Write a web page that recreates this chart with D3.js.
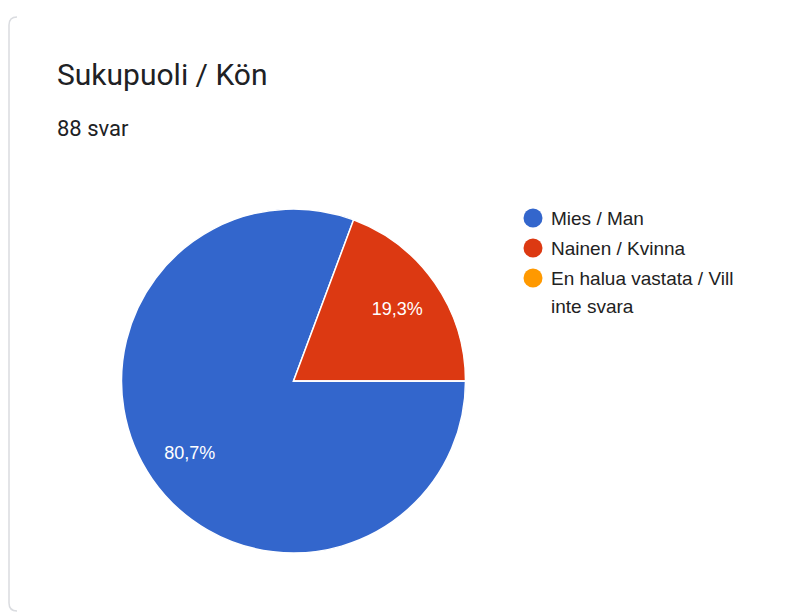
<!DOCTYPE html>
<html>
<head>
<meta charset="utf-8">
<script src="https://cdn.jsdelivr.net/npm/d3@7"></script>
<style>
  body { margin: 0; background: #fff; }
  svg { display: block; }
</style>
</head>
<body>
<svg></svg>
<script>
var categories = ["Mies / Man", "Nainen / Kvinna", "En halua vastata / Vill inte svara"];
var legendLines = [["Mies / Man"], ["Nainen / Kvinna"], ["En halua vastata / Vill", "inte svara"]];
var counts = [71, 17, 0];
var colors = ["#3366cc", "#dc3912", "#ff9900"];
var title = "Sukupuoli / Kön";
var subtitle = "88 svar";

var svgWidth = 789;
var svgHeight = 613;

var svg = d3.select("svg")
  .attr("width", svgWidth)
  .attr("height", svgHeight);

// card edge (only left side shows)
svg.append("path")
  .attr("d", "M 17 17 Q 9 17 9 25 L 9 603 Q 9 611 17 611")
  .attr("fill", "none")
  .attr("stroke", "#dadce0")
  .attr("stroke-width", 1.5);

svg.append("text")
  .attr("x", 57)
  .attr("y", 85)
  .attr("font-family", "Roboto, sans-serif")
  .attr("font-size", 30)
  .attr("fill", "#202124")
  .text(title);

svg.append("text")
  .attr("x", 57)
  .attr("y", 136)
  .attr("font-family", "Roboto, sans-serif")
  .attr("font-size", 22)
  .attr("fill", "#202124")
  .text(subtitle);

var cx = 293.5, cy = 381, radius = 172;
var total = d3.sum(counts);

var pie = d3.pie()
  .sort(null)
  .startAngle(Math.PI / 2)
  .endAngle(Math.PI / 2 + 2 * Math.PI)
  .value(function(d) { return d; });

var arcs = pie(counts);

var arc = d3.arc().innerRadius(0).outerRadius(radius);
var labelArc = d3.arc().innerRadius(radius * 0.735).outerRadius(radius * 0.735);

var g = svg.append("g").attr("transform", "translate(" + cx + "," + cy + ")");

g.selectAll("path")
  .data(arcs)
  .enter()
  .append("path")
  .attr("d", arc)
  .attr("fill", function(d, i) { return colors[i]; })
  .attr("stroke", "#fff")
  .attr("stroke-width", 1.5);

g.selectAll("text")
  .data(arcs.filter(function(d) { return d.value > 0; }))
  .enter()
  .append("text")
  .attr("transform", function(d) { return "translate(" + labelArc.centroid(d) + ")"; })
  .attr("text-anchor", "middle")
  .attr("dy", "0.35em")
  .attr("font-family", "'Liberation Sans', Arial, sans-serif")
  .attr("font-size", 18)
  .attr("fill", "#fff")
  .text(function(d) {
    return (d.value / total * 100).toFixed(1).replace(".", ",") + "%";
  });

// legend
var legendY = [218, 248, 278];
var legend = svg.append("g");
categories.forEach(function(c, i) {
  legend.append("circle")
    .attr("cx", 533)
    .attr("cy", legendY[i])
    .attr("r", 9.5)
    .attr("fill", colors[i]);
  legendLines[i].forEach(function(line, j) {
    legend.append("text")
      .attr("x", 551)
      .attr("y", legendY[i] + j * 28)
      .attr("dy", "0.35em")
      .attr("font-family", "'Liberation Sans', Arial, sans-serif")
      .attr("font-size", 19)
      .attr("fill", "#222")
      .text(line);
  });
});
</script>
</body>
</html>
